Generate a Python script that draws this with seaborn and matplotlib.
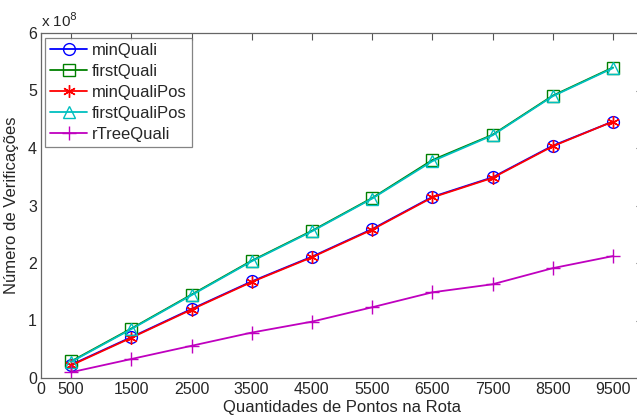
import matplotlib
matplotlib.use("Agg")
import matplotlib.pyplot as plt
import seaborn as sns
import pandas as pd

points = [500, 1500, 2500, 3500, 4500, 5500, 6500, 7500, 8500, 9500]
minQuali = [0.23, 0.71, 1.20, 1.68, 2.11, 2.59, 3.15, 3.49, 4.04, 4.46]
firstQuali = [0.29, 0.86, 1.45, 2.04, 2.56, 3.13, 3.79, 4.23, 4.91, 5.40]
minQualiPos = [0.22, 0.70, 1.19, 1.67, 2.10, 2.58, 3.14, 3.48, 4.03, 4.46]
firstQualiPos = [0.28, 0.85, 1.44, 2.03, 2.55, 3.12, 3.77, 4.22, 4.90, 5.39]
rTreeQuali = [0.10, 0.33, 0.56, 0.79, 0.98, 1.23, 1.49, 1.63, 1.91, 2.12]

series = {
    "minQuali": minQuali,
    "firstQuali": firstQuali,
    "minQualiPos": minQualiPos,
    "firstQualiPos": firstQualiPos,
    "rTreeQuali": rTreeQuali,
}
styles = {
    "minQuali": dict(color="#0000ff", marker="o", mfc="none", ms=8.5),
    "firstQuali": dict(color="#008000", marker="s", mfc="none", ms=8),
    "minQualiPos": dict(color="#ff0000", marker=(6, 2, 0), ms=9),
    "firstQualiPos": dict(color="#00bfbf", marker="^", mfc="none", ms=9),
    "rTreeQuali": dict(color="#bf00bf", marker="+", ms=10),
}

rows = []
for name, vals in series.items():
    for x, v in zip(points, vals):
        rows.append({"x": x, "y": v, "serie": name})
df = pd.DataFrame(rows)

sns.set_style("white")
plt.rcParams["font.family"] = ["Liberation Sans", "DejaVu Sans"]

fig = plt.figure(figsize=(6.37, 4.20), dpi=100)
ax = fig.add_axes([41 / 637, 1 - 378 / 420, (643 - 41) / 637, (378 - 33) / 420])

for name in series:
    st = styles[name]
    sns.lineplot(data=df[df["serie"] == name], x="x", y="y", ax=ax,
                 label=name, color=st["color"], marker=st["marker"],
                 markerfacecolor=st.get("mfc", st["color"]),
                 markeredgecolor=st["color"], markersize=st["ms"],
                 markeredgewidth=1.0, linewidth=1.3, errorbar=None)

ax.set_xlim(0, 10000)
ax.set_ylim(0, 6)
ax.set_xticks([0] + points)
ax.set_xticklabels(["0"] + [str(p) for p in points])
ax.set_yticks([0, 1, 2, 3, 4, 5, 6])
ax.set_yticklabels(["0", "1", "2", "3", "4", "5", "6"])
ax.tick_params(axis="both", direction="in", length=5, width=0.8, color="#555555",
               labelsize=11.5, top=True, right=True, pad=3)
for s in ax.spines.values():
    s.set_color("#666666")
    s.set_linewidth(0.9)

ax.set_xlabel("Quantidades de Pontos na Rota", fontsize=12, labelpad=2)
ax.set_ylabel("Número de Verificações", fontsize=12, labelpad=6)
ax.text(0.0, 1.008, "x 10$^{8}$", transform=ax.transAxes, fontsize=11,
        ha="left", va="bottom")

leg = ax.legend(loc="upper left", bbox_to_anchor=(0.007, 0.985), fontsize=12,
                frameon=True, fancybox=False, edgecolor="#666666",
                handlelength=2.2, handletextpad=0.3, labelspacing=0.35,
                borderpad=0.3, borderaxespad=0.0)
leg.get_frame().set_linewidth(0.9)

fig.savefig("out.png", dpi=100)
